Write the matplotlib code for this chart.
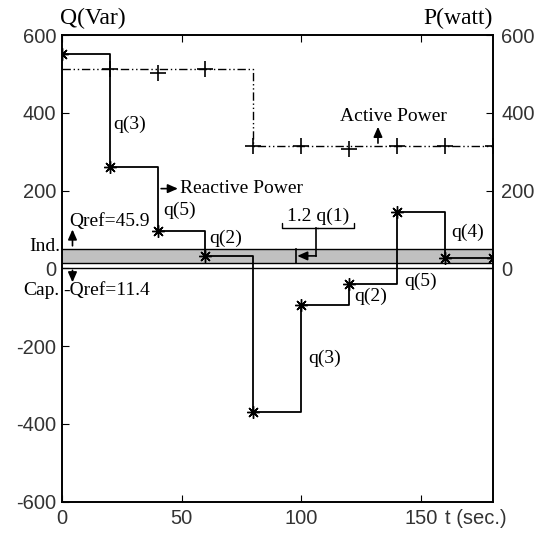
import matplotlib
matplotlib.use("Agg")
import matplotlib.pyplot as plt

plt.rcParams["axes.unicode_minus"] = False

# reactive power steps (Var)
t = [0, 20, 40, 60, 80, 100, 120, 140, 160, 180]
q = [550, 260, 95, 32, -370, -93, -39, 145, 27, 27]

# active power (watt)
p_line = [512, 512, 512, 512, 315, 315, 315, 315, 315, 315]
t_mark = [20, 40, 60, 80, 100, 120, 140, 160, 180]
p_mark = [512, 502, 512, 315, 315, 308, 315, 315, 315]

band_lo, band_hi = 15, 50
yticks = [-600, -400, -200, 0, 200, 400, 600]
xticks = [0, 50, 100, 150]

serif = "Liberation Serif"
sans = "Liberation Sans"

fig = plt.figure(figsize=(5.48, 5.36), dpi=100)
ax = fig.add_axes([0.1126, 0.064, 0.787, 0.8707])

ax.axhspan(band_lo, band_hi, color="#c0c0c0", lw=0)
ax.axhline(band_lo, color="k", lw=1)
ax.axhline(band_hi, color="k", lw=1)
ax.axhline(0, color="k", lw=1)

# active power
ax.step(t, p_line, where="post", color="k", lw=1, ls=(0, (6, 2, 1, 2, 1, 2)))
ax.plot(t_mark, p_mark, ls="none", marker="+", ms=12, mew=1.2, color="k")

# reactive power
ax.step(t, q, where="post", color="k", lw=1.3)
ax.plot(t, q, ls="none", marker=(8, 2, 0), ms=9, mew=1, color="k")
ax.plot(t, q, ls="none", marker="o", ms=3, color="k")

ax.set_xlim(0, 180)
ax.set_ylim(-600, 600)
ax.set_xticks(xticks)
ax.set_yticks(yticks)
ax.tick_params(direction="in", top=True, right=False, length=5, labelsize=14.5, colors="k")
ax.tick_params(axis="y", pad=4)
ax.tick_params(axis="x", pad=5)
for lab in ax.get_xticklabels() + ax.get_yticklabels():
    lab.set_family(sans)
    lab.set_color("#333333")

ax2 = ax.twinx()
ax2.set_ylim(-600, 600)
ax2.set_yticks([0, 200, 400, 600])
ax2.tick_params(direction="in", length=5, labelsize=14.5, pad=6)
for lab in ax2.get_yticklabels():
    lab.set_family(sans)
    lab.set_color("#333333")

for a in (ax, ax2):
    for s in a.spines.values():
        s.set_linewidth(1.2)


def arrow(x0, y0, x1, y1):
    ax.annotate("", xy=(x1, y1), xytext=(x0, y0),
                arrowprops=dict(arrowstyle="-|>, head_length=0.5, head_width=0.22",
                                color="k", lw=1.2, shrinkA=0, shrinkB=0,
                                mutation_scale=12))


fs = 14
fig.text(0.11, 0.945, "Q(Var)", family=serif, fontsize=17, ha="left", va="bottom")
fig.text(0.90, 0.945, "P(watt)", family=serif, fontsize=17, ha="right", va="bottom")
ax.annotate("t (sec.)", xy=(160, 0), xycoords=("data", "axes fraction"),
            xytext=(0, -5), textcoords="offset points", family=sans, fontsize=14.5,
            color="#333333", ha="left", va="top")

ax.text(21.5, 370, "q(3)", family=serif, fontsize=fs, va="center")
arrow(41.5, 205, 48.5, 205)
ax.text(49.5, 205, "Reactive Power", family=serif, fontsize=fs, va="center")
ax.text(42.5, 148, "q(5)", family=serif, fontsize=fs, va="center")
ax.text(61.5, 76, "q(2)", family=serif, fontsize=fs, va="center")
ax.text(3, 121, "Qref=45.9", family=serif, fontsize=fs, va="center")
arrow(4.5, 58, 4.5, 100)
ax.text(-0.8, 57, "Ind.", family=serif, fontsize=fs, va="center", ha="right")
arrow(4.5, -5, 4.5, -36)
ax.text(-0.8, -57, "Cap.", family=serif, fontsize=fs, va="center", ha="right")
ax.text(0.8, -57, "-Qref=11.4", family=serif, fontsize=fs, va="center")

ax.text(107, 135, "1.2 q(1)", family=serif, fontsize=fs, va="center", ha="center")
ax.annotate("", xy=(107, 103), xytext=(107, 102), annotation_clip=False,
            arrowprops=dict(arrowstyle="-[, widthB=2.6, lengthB=0.4", color="k", lw=1))
ax.plot([106.2, 106.2], [103, 32], color="k", lw=1.2)
arrow(106.2, 32, 98.3, 32)
ax.plot([97.9, 97.9], [band_lo, band_hi], color="k", lw=1.2)

ax.text(162.5, 92, "q(4)", family=serif, fontsize=fs, va="center")
ax.text(143, -33, "q(5)", family=serif, fontsize=fs, va="center")
ax.text(122, -72, "q(2)", family=serif, fontsize=fs, va="center")
ax.text(103, -232, "q(3)", family=serif, fontsize=fs, va="center")

ax.text(138.5, 391, "Active Power", family=serif, fontsize=fs, va="center", ha="center")
arrow(132, 322, 132, 364)

fig.savefig("out.png", dpi=100)
